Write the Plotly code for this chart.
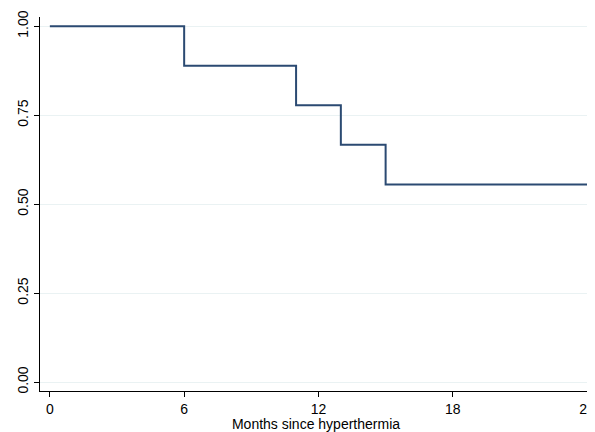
import plotly.graph_objects as go

months = [0, 6, 11, 13, 15, 24]
survival = [1.0, 0.8889, 0.7778, 0.6667, 0.5556, 0.5556]
x_ticks = [0, 6, 12, 18, 24]
y_ticks = [0.0, 0.25, 0.5, 0.75, 1.0]
y_tick_labels = ["0.00", "0.25", "0.50", "0.75", "1.00"]

fig = go.Figure()
fig.add_trace(go.Scatter(
    x=months, y=survival, mode="lines", line_shape="hv",
    line=dict(color="#2b4a72", width=2), showlegend=False, hoverinfo="skip"))

# page body has an 8px margin, so size the figure to fill the rest of the window
fig.update_layout(
    width=587, height=424,
    margin=dict(l=32, r=0, t=9, b=41),
    paper_bgcolor="white", plot_bgcolor="white",
    font=dict(family="Liberation Sans, Arial, sans-serif", color="#000000", size=13),
)
fig.update_xaxes(
    range=[-0.44, 24.22], tickvals=x_ticks, ticktext=[str(v) for v in x_ticks],
    showgrid=False, zeroline=False, showline=True, linecolor="#000000", linewidth=1,
    ticks="outside", ticklen=5, tickcolor="#000000", tickfont=dict(size=14),
    ticklabeloverflow="allow",
    title=dict(text="Months since hyperthermia", font=dict(size=14), standoff=0),
)
fig.update_yaxes(
    range=[-0.025, 1.026], tickvals=y_ticks, ticktext=y_tick_labels, tickangle=-90,
    showgrid=True, gridcolor="#eaf2f3", gridwidth=1, zeroline=False,
    showline=True, linecolor="#000000", linewidth=1,
    ticks="outside", ticklen=5, tickcolor="#000000", tickfont=dict(size=14),
)

fig.write_html("out.html")
